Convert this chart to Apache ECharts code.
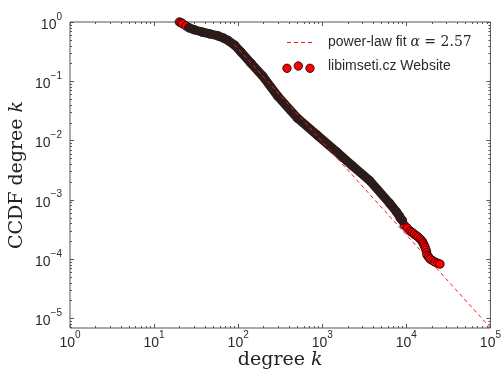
<!DOCTYPE html>
<html><head><meta charset="utf-8">
<script src="https://cdn.jsdelivr.net/npm/echarts@6/dist/echarts.min.js"></script>
<style>html,body{margin:0;padding:0;background:#fff}#c{width:504px;height:371px}</style>
</head><body><div id="c"></div>
<script>
// ---- data ----
const degree = [20, 21, 22, 24, 26, 30, 37, 46, 58, 67, 76, 91, 108, 142, 197, 296, 508, 873, 1500, 2254, 3670, 6310, 7620, 8280, 8500, 8970, 9470, 10280, 11150, 11770, 12420, 13120, 13840, 14620, 15420, 15850, 16290, 16740, 17180, 17420, 17660, 18390, 19150, 20490, 21930, 23480, 25120];
const ccdf   = [1.0, 0.97, 0.93, 0.86, 0.80, 0.74, 0.678, 0.63, 0.581, 0.535, 0.486, 0.405, 0.312, 0.201, 0.121, 0.0558, 0.0238, 0.01227, 0.00634, 0.0038, 0.0021, 0.000877, 0.000625, 0.00053, 0.00049, 0.000445, 0.000373, 0.000332, 0.000295, 0.000279, 0.000263, 0.000248, 0.000234, 0.000217, 0.0002, 0.000185, 0.000171, 0.000156, 0.000141, 0.000128, 0.000116, 0.000108, 0.0000996, 0.000094, 0.0000887, 0.000085, 0.000082];
const fitAlpha = 2.57;
const fitKmin = 90;
const fitCcdfAtKmin = 0.416;
const fitKmax = 1e5;
const xRange = [1, 1e5];
const yRange = [Math.pow(10, -5.165), 1];
const bandDegreeRange = [25, 8970];
const legendFitLabel = 'power-law fit ';
const legendFitMath = '2.57';
const legendDataLabel = 'libimseti.cz Website';
const xTitle = 'degree ';
const yTitle = 'CCDF degree ';

// ---- derived ----
const points = degree.map((k, i) => [k, ccdf[i]]);
const bandPoints = points.filter(p => p[0] >= bandDegreeRange[0] && p[0] <= bandDegreeRange[1]);
const fitLine = [
  [fitKmin, fitCcdfAtKmin],
  [fitKmax, fitCcdfAtKmin * Math.pow(fitKmax / fitKmin, -(fitAlpha - 1))]
];

const TXT = '#2a2a2a';
const FRAME = '#555';
function supLabel(v) {
  const e = Math.log10(v);
  const r = Math.round(e);
  if (Math.abs(e - r) > 1e-6) return '';
  return '{b|10}{s|' + (r < 0 ? '\u2212' : '') + Math.abs(r) + '}';
}
const labelRich = {
  b: { fontFamily: 'Liberation Sans', fontSize: 14, color: TXT, lineHeight: 20, verticalAlign: 'bottom' },
  s: { fontFamily: 'Liberation Sans', fontSize: 10, color: TXT, lineHeight: 10, verticalAlign: 'top' }
};

const chart = echarts.init(document.getElementById('c'), null, { renderer: 'canvas' });
const option = {
  animation: false,
  backgroundColor: '#fff',
  grid: { left: 70, right: 10, top: 22, bottom: 43, show: true, borderColor: FRAME, borderWidth: 1, backgroundColor: 'transparent' },
  xAxis: {
    type: 'log', logBase: 10, min: xRange[0], max: xRange[1], splitNumber: 5,
    axisLine: { show: false }, axisTick: { show: false }, splitLine: { show: false }, minorTick: { show: false },
    axisLabel: { formatter: supLabel, rich: labelRich, margin: 2, showMinLabel: true, showMaxLabel: true }
  },
  yAxis: {
    type: 'log', logBase: 10, min: yRange[0], max: yRange[1], splitNumber: 5,
    axisLine: { show: false }, axisTick: { show: false }, splitLine: { show: false }, minorTick: { show: false },
    axisLabel: { formatter: supLabel, rich: labelRich, margin: 8 }
  },
  series: [
    {
      type: 'scatter', name: legendDataLabel, data: points, symbol: 'circle', symbolSize: 8.5,
      itemStyle: { color: '#ff0000', borderColor: '#000', borderWidth: 0.8, opacity: 1 }, z: 2
    },
    {
      type: 'line', data: bandPoints, showSymbol: false, symbol: 'none',
      lineStyle: { color: '#2b1b1b', width: 9, cap: 'round', join: 'round' }, z: 3, silent: true
    },
    {
      type: 'line', name: 'fit', data: fitLine, showSymbol: false, symbol: 'none',
      lineStyle: { color: '#ff1a1a', width: 1, type: [4, 3] }, z: 4, silent: true
    }
  ]
};
chart.setOption(option);

// ---- ticks (major & minor) on all four sides, placed via the axes' scales ----
const gfx = [];
const px = v => chart.convertToPixel({ xAxisIndex: 0 }, v);
const py = v => chart.convertToPixel({ yAxisIndex: 0 }, v);
const L = px(xRange[0]), R = px(xRange[1]), T = py(yRange[1]), B = py(yRange[0]);
function seg(x1, y1, x2, y2) {
  gfx.push({ type: 'line', silent: true, z: 10, shape: { x1, y1, x2, y2 }, style: { stroke: FRAME, lineWidth: 1 } });
}
for (let n = -1; n <= 5; n++) {
  for (let m = 1; m <= 9; m++) {
    const v = m * Math.pow(10, n);
    if (v < xRange[0] * 0.999 || v > xRange[1] * 1.001) continue;
    const x = Math.round(px(v)) + 0.5;
    const len = m === 1 ? 4 : 2;
    seg(x, B, x, B - len);
    seg(x, T, x, T + len);
  }
}
for (let n = -7; n <= 0; n++) {
  for (let m = 1; m <= 9; m++) {
    const v = m * Math.pow(10, n);
    if (v < yRange[0] || v > yRange[1] * 1.001) continue;
    const y = Math.round(py(v)) + 0.5;
    const len = m === 1 ? 4 : 2;
    seg(L, y, L + len, y);
    seg(R, y, R - len, y);
  }
}

// ---- legend ----
gfx.push({ type: 'line', silent: true, z: 10, shape: { x1: 287, y1: 42.5, x2: 312, y2: 42.5 }, style: { stroke: '#ff1a1a', lineWidth: 1, lineDash: [4, 3] } });
gfx.push({ type: 'text', silent: true, z: 10, x: 328, y: 42, style: {
  text: '{a|' + legendFitLabel + '}{m|\u03b1}{n| = ' + legendFitMath + '}', verticalAlign: 'middle', align: 'left',
  rich: {
    a: { fontFamily: 'Liberation Sans', fontSize: 14, fill: TXT, color: TXT },
    m: { fontFamily: 'DejaVu Serif', fontStyle: 'italic', fontSize: 14, fill: TXT, color: TXT },
    n: { fontFamily: 'DejaVu Serif', fontSize: 14, fill: TXT, color: TXT }
  } } });
[[287, 68.3], [298.3, 66], [310, 68.3]].forEach(c => gfx.push({ type: 'circle', silent: true, z: 10, shape: { cx: c[0], cy: c[1], r: 4.2 }, style: { fill: '#ff0000', stroke: '#000', lineWidth: 0.8 } }));
gfx.push({ type: 'text', silent: true, z: 10, x: 328, y: 66, style: { text: legendDataLabel, verticalAlign: 'middle', align: 'left', font: '14px "Liberation Sans"', fill: TXT } });

// ---- axis titles ----
const titleRich = {
  r: { fontFamily: 'DejaVu Serif', fontSize: 19, fill: '#222', color: '#222' },
  i: { fontFamily: 'DejaVu Serif', fontStyle: 'italic', fontSize: 19, fill: '#222', color: '#222' }
};
gfx.push({ type: 'text', silent: true, x: (L + R) / 2, y: 360, style: { text: '{r|' + xTitle + '}{i|k}', align: 'center', verticalAlign: 'middle', rich: titleRich } });
gfx.push({ type: 'text', silent: true, x: 17, y: (T + B) / 2, rotation: Math.PI / 2, style: { text: '{r|' + yTitle + '}{i|k}', align: 'center', verticalAlign: 'middle', rich: titleRich } });

chart.setOption({ graphic: gfx });
</script></body></html>
